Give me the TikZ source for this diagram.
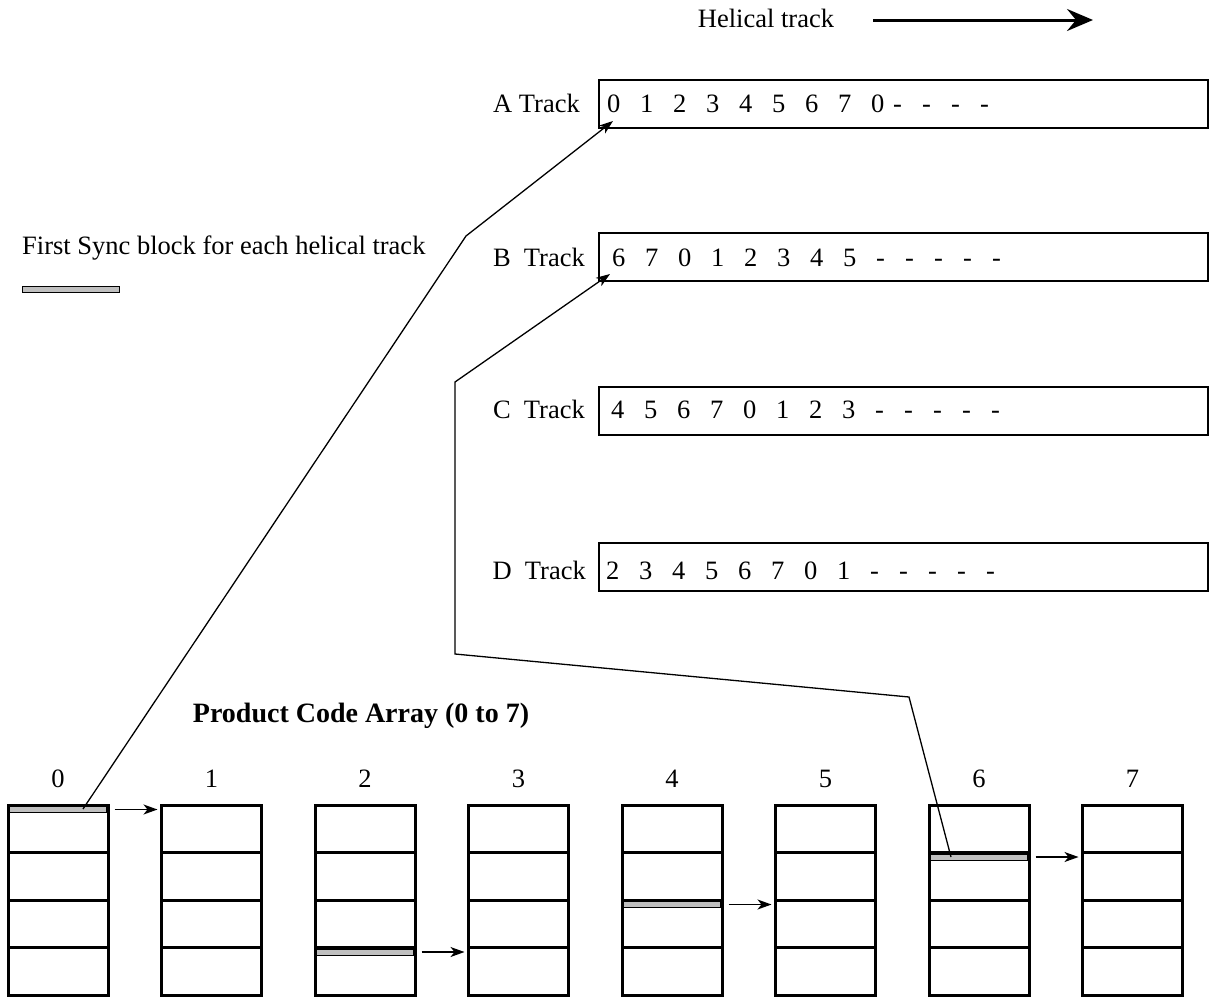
\documentclass[tikz,border=0pt]{standalone}
\usepackage{fontspec}
\setmainfont{Liberation Serif}
\usetikzlibrary{arrows.meta,calc}
\newcommand{\dg}[1]{\makebox[33pt][l]{#1}}
\newcommand{\dsh}{\makebox[29pt][l]{-}}
\begin{document}
\begin{tikzpicture}[x=1pt,y=-1pt,
  txt/.style={font=\fontsize{26.5}{30}\selectfont, inner sep=0pt},
  trackbox/.style={draw, line width=2.8pt, minimum width=609pt, minimum height=48pt, anchor=north west, inner sep=0pt, outer sep=0pt},
  cellbox/.style={draw, line width=3pt, minimum width=100pt, minimum height=190pt, anchor=north west, inner sep=0pt, outer sep=0pt},
  syncbar/.style={draw, line width=0.8pt, fill=black!25, minimum width=97pt, minimum height=6pt, anchor=north west, inner sep=0pt, outer sep=0pt},
  conn/.style={line width=1.3pt},
  tip/.style={-{Stealth[length=14pt,width=10pt,inset=4pt]}}
]
\useasboundingbox (0,0) rectangle (1210,996);

% helical track arrow
\node[txt] (hel) at (766,18) {Helical track};
\coordinate (h1) at (873,20);
\coordinate (h2) at (1093,20);
\draw[line width=3pt, -{Stealth[length=26pt,width=22pt,inset=9pt]}] (h1) -- (h2);

% track boxes
\node[trackbox] (A) at (599,80) {};
\node[trackbox] (B) at (599,233) {};
\node[trackbox] (C) at (599,387) {};
\node[trackbox] (D) at (599,543) {};

\node[txt, anchor=base east] (la) at (580,112) {A Track};
\node[txt, anchor=base east] (lb) at (585,266) {B\ \ Track};
\node[txt, anchor=base east] (lc) at (585,418) {C\ \ Track};
\node[txt, anchor=base east] (ld) at (586,579) {D\ \ Track};

\node[txt, anchor=base west] (ta) at (607,112) {\dg0\dg1\dg2\dg3\dg4\dg5\dg6\dg7\makebox[22pt][l]{0}\dsh\dsh\dsh-};
\node[txt, anchor=base west] (tb) at (612,266) {\dg6\dg7\dg0\dg1\dg2\dg3\dg4\dg5\dsh\dsh\dsh\dsh-};
\node[txt, anchor=base west] (tc) at (611,418) {\dg4\dg5\dg6\dg7\dg0\dg1\dg2\dg3\dsh\dsh\dsh\dsh-};
\node[txt, anchor=base west] (td) at (606,579) {\dg2\dg3\dg4\dg5\dg6\dg7\dg0\dg1\dsh\dsh\dsh\dsh-};

% legend
\node[txt, anchor=west] (leg) at (22,248) {First Sync block for each helical track};
\node[syncbar] (legbar) at (22,286) {};

% title of array
\node[txt, font={\fontsize{28}{32}\selectfont\bfseries}] (pca) at (361,716) {Product Code Array (0 to 7)};

% columns
\foreach \i in {0,...,7} {
  \node[cellbox] (c\i) at (8+153.5*\i,805) {};
  \foreach \k in {1,2,3}
    \draw[line width=3pt] ($(c\i.north west)+(0,47.5*\k)$) -- ($(c\i.north east)+(0,47.5*\k)$);
  \node[txt, anchor=base] (n\i) at ($(c\i.north)+(0,-18)$) {\i};
}

% sync bars
\node[syncbar] (b0) at ($(c0.north west)+(1.5,1.5)$) {};
\node[syncbar] (b2) at ($(c2.north west)+(1.5,47.5*3+1.5)$) {};
\node[syncbar] (b4) at ($(c4.north west)+(1.5,47.5*2+1.5)$) {};
\node[syncbar] (b6) at ($(c6.north west)+(1.5,47.5+1.5)$) {};

\draw[conn,tip] ($(b0.east)+(8,0)$) -- ($(c1.west |- b0.east)+(-4,0)$);
\draw[conn,tip] ($(b2.east)+(8,0)$) -- ($(c3.west |- b2.east)+(-4,0)$);
\draw[conn,tip] ($(b4.east)+(8,0)$) -- ($(c5.west |- b4.east)+(-4,0)$);
\draw[conn,tip] ($(b6.east)+(8,0)$) -- ($(c7.west |- b6.east)+(-4,0)$);

% connectors to tracks
\coordinate (s0) at (83,809);
\coordinate (p1) at (466,236);
\coordinate (tA) at (613,121);
\draw[conn,tip] (s0) -- (p1) -- (tA);

\coordinate (s6) at (951,857);
\coordinate (q1) at (909,697);
\coordinate (q2) at (455,654);
\coordinate (q3) at (455,382);
\coordinate (tB) at (610,274);
\draw[conn,tip] (s6) -- (q1) -- (q2) -- (q3) -- (tB);
\end{tikzpicture}
\end{document}
